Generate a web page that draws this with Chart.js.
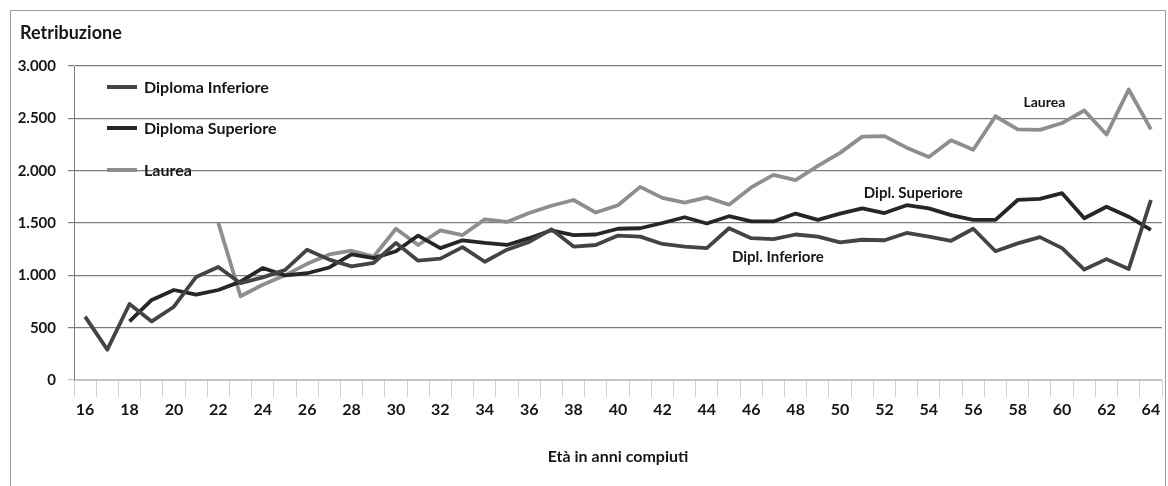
<!DOCTYPE html>
<html lang="it">
<head>
<meta charset="utf-8">
<title>Retribuzione per età e titolo di studio</title>
<script src="https://cdn.jsdelivr.net/npm/chart.js@4.4.1/dist/chart.umd.min.js"></script>
<style>
  html, body { margin: 0; padding: 0; background: #fff; }
  #wrap { position: relative; width: 1168px; height: 486px; overflow: hidden; }
  #frame { position: absolute; left: 10px; top: 10px; width: 1154px; height: 490px; border: 1px solid #9a9a9a; pointer-events: none; }
</style>
</head>
<body>
<div id="wrap">
  <canvas id="chart-retrib" width="1168" height="486"></canvas>
  <div id="frame"></div>
</div>

<script>
/* ── DATI ── */
const AGES = [16,17,18,19,20,21,22,23,24,25,26,27,28,29,30,31,32,33,34,35,36,37,38,39,40,
              41,42,43,44,45,46,47,48,49,50,51,52,53,54,55,56,57,58,59,60,61,62,63,64];

const DIPLOMA_INFERIORE = [605,290,726,560,700,985,1080,925,980,1050,1245,1150,1085,1120,1310,1140,1160,1270,1130,1245,
                           1320,1440,1275,1290,1380,1370,1300,1275,1260,1450,1355,1345,1390,1370,1315,1340,1335,1405,1370,1330,
                           1445,1230,1305,1365,1260,1055,1155,1060,1720];

const DIPLOMA_SUPERIORE = [null,null,560,765,860,815,860,940,1070,1000,1020,1075,1200,1165,1230,1380,1260,1335,1310,1290,
                           1355,1430,1385,1390,1445,1450,1500,1555,1495,1565,1515,1515,1590,1530,1590,1640,1595,1670,1640,1575,
                           1530,1530,1720,1730,1785,1545,1655,1560,1435];

const LAUREA = [null,null,null,null,null,null,1500,800,910,1000,1110,1200,1235,1180,1445,1290,1430,1385,1535,1510,
                1595,1665,1720,1600,1670,1845,1740,1695,1745,1675,1840,1960,1910,2045,2170,2325,2330,2220,2130,2290,
                2200,2520,2395,2390,2455,2575,2345,2775,2395];

const SERIES_NAMES = ['Diploma Inferiore', 'Diploma Superiore', 'Laurea'];
const Y_TICKS = [0, 500, 1000, 1500, 2000, 2500, 3000];

// etichette scritte accanto alle linee: età e valore dove stanno
const LINE_LABELS = ['Dipl. Inferiore', 'Dipl. Superiore', 'Laurea'];
const LINE_LABEL_AGE = [47.2, 53.3, 59.2];
const LINE_LABEL_VALUE = [1175, 1786, 2655];

/* ── STILE ── */
const COLORS = ['#444444', '#262626', '#8e8e8e'];
const FONT = 'Lato, "Open Sans", sans-serif';
const INK = '#161616';

// 3000 -> "3.000"
function fmtThousands(v) {
  return String(v).replace(/\B(?=(\d{3})+(?!\d))/g, '.');
}

/* ── PLUGIN: titolo, legenda, etichette ── */
const overlayPlugin = {
  id: 'overlay',
  afterDraw(chart) {
    const { ctx, chartArea, scales } = chart;
    ctx.save();
    ctx.fillStyle = INK;
    ctx.textBaseline = 'middle';

    // titolo asse Y
    ctx.font = `bold 18px ${FONT}`;
    ctx.textAlign = 'left';
    ctx.fillText('Retribuzione', 20, 33);

    // legenda dentro l'area del grafico
    const rowsY = [87, 128, 170];
    ctx.font = `bold 16px ${FONT}`;
    SERIES_NAMES.forEach((name, i) => {
      ctx.strokeStyle = COLORS[i];
      ctx.lineWidth = 4;
      ctx.beginPath();
      ctx.moveTo(107, rowsY[i]);
      ctx.lineTo(137, rowsY[i]);
      ctx.stroke();
      ctx.fillStyle = INK;
      ctx.fillText(name, 144, rowsY[i] + 1);
    });

    // etichette vicino alle linee (posizionate con le scale)
    const x0 = scales.x.getPixelForValue(0);
    const step = scales.x.getPixelForValue(1) - x0;
    ctx.textAlign = 'center';
    LINE_LABELS.forEach((txt, i) => {
      ctx.font = `bold ${i === 2 ? 14 : 15}px ${FONT}`;
      const px = x0 + (LINE_LABEL_AGE[i] - AGES[0]) * step;
      const py = scales.y.getPixelForValue(LINE_LABEL_VALUE[i]);
      ctx.fillText(txt, px, py);
    });

    // titolo asse X
    ctx.font = `bold 16px ${FONT}`;
    ctx.fillText('Età in anni compiuti', (chartArea.left + chartArea.right) / 2, 457);
    ctx.restore();
  }
};

/* ── GRAFICO ── */
const ctx = document.getElementById('chart-retrib').getContext('2d');
const datasets = [DIPLOMA_INFERIORE, DIPLOMA_SUPERIORE, LAUREA].map((data, i) => ({
  label: SERIES_NAMES[i],
  data,
  borderColor: COLORS[i],
  backgroundColor: COLORS[i],
  borderWidth: 3.8,
  pointRadius: 0,
  tension: 0,
  spanGaps: false,
  borderJoinStyle: 'round',
}));

new Chart(ctx, {
  type: 'line',
  data: { labels: AGES, datasets },
  options: {
    responsive: false,
    animation: false,
    layout: { padding: { top: 66, right: 6, left: 0, bottom: 0 } },
    plugins: { legend: { display: false }, tooltip: { enabled: false } },
    scales: {
      x: {
        type: 'category',
        offset: true,
        grid: { offset: true, drawOnChartArea: false, tickLength: 17, color: '#d2d2d2' },
        border: { color: '#c4c4c4' },
        ticks: {
          autoSkip: false, maxRotation: 0, padding: 3,
          color: INK, font: { family: FONT, size: 16, weight: 'bold' },
          callback: function (v, i) { return i % 2 === 0 ? this.getLabelForValue(v) : ''; },
        },
        afterFit: s => { s.height = 106; },
      },
      y: {
        min: 0, max: 3000,
        afterBuildTicks: s => { s.ticks = Y_TICKS.map(v => ({ value: v })); },
        ticks: {
          padding: 12, color: INK,
          font: { family: FONT, size: 15, weight: 'bold' },
          callback: v => fmtThousands(v),
        },
        grid: {
          tickLength: 6,
          lineWidth: 1.2,
          color: c => (c.tick && c.tick.value === 0 ? '#c4c4c4' : '#7c7c7c'),
        },
        border: { color: '#7c7c7c' },
        afterFit: s => { s.width = 74; },
      },
    },
  },
  plugins: [overlayPlugin],
});
</script>
</body>
</html>
